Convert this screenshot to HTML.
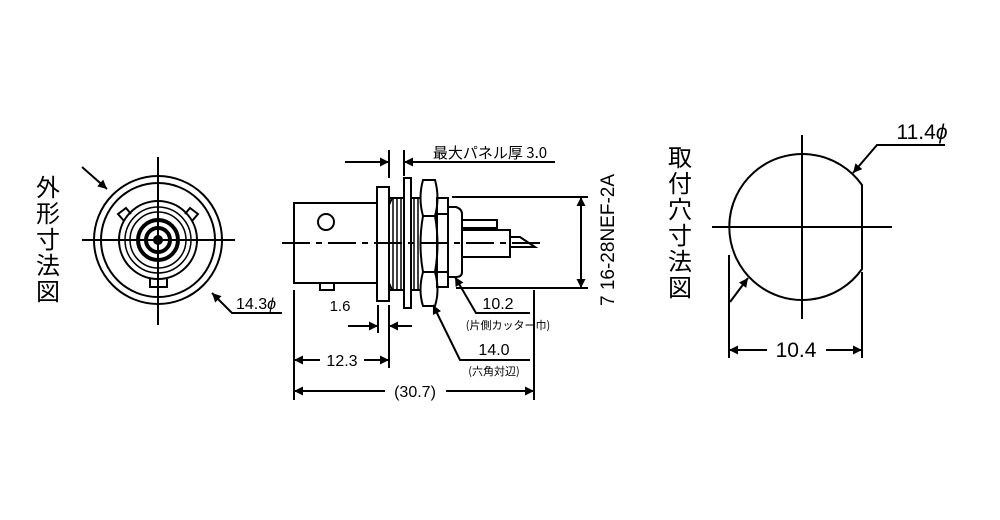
<!DOCTYPE html>
<html><head><meta charset="utf-8"><style>
html,body{margin:0;padding:0;background:#fff;}
svg{display:block;}
text{font-family:"Liberation Sans","Noto Sans CJK JP",sans-serif;fill:#000;}
.j{font-family:"Noto Sans CJK JP","Liberation Sans",sans-serif;}
</style></head><body>
<svg width="1000" height="520" viewBox="0 0 1000 520" xmlns="http://www.w3.org/2000/svg">
<defs>
<marker id="a" viewBox="0 0 10 10" refX="10" refY="5" markerWidth="17" markerHeight="9" markerUnits="userSpaceOnUse" orient="auto"><path d="M0,0L10,5L0,10z" fill="#000"/></marker>
</defs>
<g fill="none" stroke="#000" stroke-width="2">
<!-- LEFT VIEW -->
<circle cx="158" cy="240" r="64"/>
<circle cx="158" cy="240" r="57"/>
<circle cx="158" cy="240" r="39"/>
<circle cx="158" cy="240" r="33" stroke-width="1.5"/>
<circle cx="158" cy="240" r="28" stroke-width="1.5"/>
<circle cx="158" cy="240" r="20" stroke-width="4"/>
<circle cx="158" cy="240" r="12" stroke-width="4"/>
<circle cx="158" cy="240" r="4" fill="#000"/>
<path d="M124,221 L118,214 L126,208 L131,214"/>
<path d="M192,221 L198,214 L190,208 L185,214"/>
<path d="M150,279 V287 H167 V279"/>
<line x1="82" y1="240" x2="235" y2="240"/>
<line x1="158" y1="157" x2="158" y2="325"/>
<line x1="82" y1="167" x2="107" y2="189" marker-end="url(#a)"/>
<polyline points="282,313 232,313 212,293" marker-end="url(#a)"/>

<!-- MIDDLE VIEW -->
<rect x="294" y="203" width="83" height="80"/>
<circle cx="326" cy="222" r="8"/>
<path d="M320,283 V290 H334 V283"/>
<rect x="377" y="187" width="12" height="114"/>
<path d="M389,198 H420 M389,290 H420 M392,198 L389,205 M392,290 L389,283" />
<g stroke-width="1.5">
<line x1="393" y1="198" x2="393" y2="290"/><line x1="397" y1="198" x2="397" y2="290"/>
<line x1="401" y1="198" x2="401" y2="290"/><line x1="414" y1="198" x2="414" y2="290"/>
<line x1="418" y1="198" x2="418" y2="290"/>
</g>
<rect x="404" y="178" width="7" height="130" fill="#fff"/>
<path d="M423,180 Q418,198 423,216 Q418,244 423,272 Q418,290 423,306 H435 Q440,290 435,272 Q440,244 435,216 Q440,198 435,180 Z" fill="#fff"/>
<line x1="423" y1="216" x2="435" y2="216"/><line x1="423" y1="272" x2="435" y2="272"/>
<rect x="437" y="198" width="11" height="89"/>
<line x1="437" y1="214" x2="448" y2="214"/><line x1="437" y1="272" x2="448" y2="272"/>
<path d="M448,207 H456 Q462,209 462,214 V272 Q462,277 456,277 H448"/>
<path d="M462,220 H497 V228 H462"/>
<path d="M462,230 H510 V257 H462 M510,237 H520 L535,247 H510"/>
<line x1="282" y1="243" x2="546" y2="243" stroke-dasharray="28,6,6,6"/>
<!-- right dim -->
<line x1="452" y1="197" x2="588" y2="197"/>
<line x1="456" y1="288" x2="588" y2="288"/>
<line x1="581" y1="243" x2="581" y2="197" marker-end="url(#a)"/>
<line x1="581" y1="243" x2="581" y2="288" marker-end="url(#a)"/>
<!-- top dim -->
<line x1="389" y1="150" x2="389" y2="178"/>
<line x1="404" y1="150" x2="404" y2="176"/>
<line x1="345" y1="162" x2="389" y2="162" marker-end="url(#a)"/>
<line x1="555" y1="162" x2="404" y2="162" marker-end="url(#a)"/>
<!-- bottom dims -->
<line x1="294" y1="290" x2="294" y2="400"/>
<line x1="389" y1="305" x2="389" y2="368"/>
<line x1="378" y1="305" x2="378" y2="333"/>
<line x1="534" y1="290" x2="534" y2="400"/>
<line x1="348" y1="326" x2="378" y2="326" marker-end="url(#a)"/>
<line x1="412" y1="326" x2="389" y2="326" marker-end="url(#a)"/>
<line x1="320" y1="360" x2="294" y2="360" marker-end="url(#a)"/>
<line x1="364" y1="360" x2="389" y2="360" marker-end="url(#a)"/>
<line x1="385" y1="391" x2="294" y2="391" marker-end="url(#a)"/>
<line x1="446" y1="391" x2="534" y2="391" marker-end="url(#a)"/>
<polyline points="530,313 476,313 455,277" marker-end="url(#a)"/>
<polyline points="530,360 460,360 433,305" marker-end="url(#a)"/>

<!-- RIGHT VIEW -->
<path d="M862,185 A73,73 0 1 0 862,269 Z"/>
<line x1="712" y1="227" x2="892" y2="227"/>
<line x1="802" y1="135" x2="802" y2="319"/>
<line x1="729" y1="255" x2="729" y2="358"/>
<line x1="862" y1="272" x2="862" y2="358"/>
<line x1="767" y1="350" x2="729" y2="350" marker-end="url(#a)"/>
<line x1="826" y1="350" x2="862" y2="350" marker-end="url(#a)"/>
<polyline points="945,145 877,145 853,173" marker-end="url(#a)"/>
<line x1="730" y1="302" x2="748" y2="278" marker-end="url(#a)"/>
</g>

<!-- TEXT -->
<g class="j" font-size="24" text-anchor="middle">
<text x="48" y="196" class="j">外</text><text x="48" y="222" class="j">形</text><text x="48" y="248" class="j">寸</text><text x="48" y="274" class="j">法</text><text x="48" y="300" class="j">図</text>
<text x="680" y="166" class="j">取</text><text x="680" y="192" class="j">付</text><text x="680" y="218" class="j">穴</text><text x="680" y="244" class="j">寸</text><text x="680" y="270" class="j">法</text><text x="680" y="296" class="j">図</text>
</g>
<text x="256" y="309" font-size="16" text-anchor="middle">14.3<tspan font-style="italic">ϕ</tspan></text>
<text x="340" y="311" font-size="15" text-anchor="middle">1.6</text>
<text x="342" y="366" font-size="16" text-anchor="middle">12.3</text>
<text x="415" y="397" font-size="16" text-anchor="middle">(30.7)</text>
<text x="490" y="158" font-size="15" class="j" text-anchor="middle">最大パネル厚 3.0</text>
<text x="498" y="309" font-size="16" text-anchor="middle">10.2</text>
<text x="508" y="329" font-size="11" class="j" text-anchor="middle">(片側カッター巾)</text>
<text x="494" y="355" font-size="16" text-anchor="middle">14.0</text>
<text x="494" y="375" font-size="11" class="j" text-anchor="middle">(六角対辺)</text>
<text x="0" y="0" font-size="19" text-anchor="middle" transform="translate(614,240) rotate(-90)">7 16-28NEF-2A</text>
<text x="796" y="357" font-size="21" text-anchor="middle">10.4</text>
<text x="922" y="139" font-size="21" text-anchor="middle">11.4<tspan font-style="italic">ϕ</tspan></text>
</svg>
</body></html>
